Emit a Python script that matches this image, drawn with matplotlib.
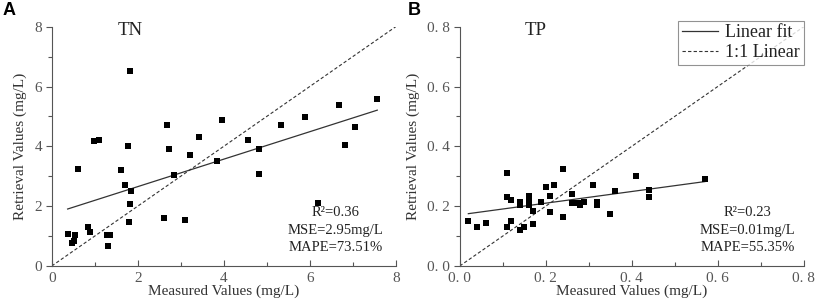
import numpy as np
import matplotlib
matplotlib.use('Agg')
import matplotlib.pyplot as plt
from matplotlib.ticker import MultipleLocator, FuncFormatter

# TN measured vs retrieved (mg/L)
tn_measured = [0.37, 0.47, 0.52, 0.54, 0.60, 0.84, 0.88, 0.98, 1.09, 1.29, 1.36, 1.30,
               1.61, 1.71, 1.78, 1.79, 1.82, 1.84, 1.81, 2.61, 2.69, 2.73, 2.84, 3.09,
               3.22, 3.43, 3.85, 3.95, 4.57, 4.81, 4.82, 5.33, 5.88, 6.20, 6.67, 6.81,
               7.05, 7.57]
tn_retrieved = [1.06, 0.78, 0.85, 1.03, 3.24, 1.29, 1.13, 4.19, 4.21, 1.03, 1.03, 0.66,
                3.22, 2.70, 4.00, 1.47, 6.53, 2.52, 2.06, 1.60, 4.71, 3.90, 3.03, 1.53,
                3.72, 4.31, 3.52, 4.87, 4.20, 3.08, 3.90, 4.70, 4.97, 2.12, 5.37, 4.04,
                4.64, 5.57]
tn_fit = (0.459, 1.735)   # slope, intercept
tn_stats = ['R²=0.36', 'MSE=2.95mg/L', 'MAPE=73.51%']

# TP measured vs retrieved (mg/L)
tp_measured = [0.02, 0.04, 0.06, 0.11, 0.11, 0.11, 0.12, 0.12, 0.14, 0.14, 0.14, 0.15,
               0.16, 0.16, 0.16, 0.17, 0.17, 0.19, 0.20, 0.21, 0.21, 0.22, 0.24, 0.24,
               0.26, 0.26, 0.27, 0.28, 0.28, 0.29, 0.31, 0.32, 0.32, 0.35, 0.36, 0.41,
               0.44, 0.44, 0.57]
tp_retrieved = [0.15, 0.13, 0.145, 0.31, 0.23, 0.13, 0.22, 0.15, 0.213, 0.203, 0.12, 0.13,
                0.235, 0.22, 0.205, 0.185, 0.14, 0.215, 0.265, 0.235, 0.18, 0.27, 0.325, 0.165,
                0.24, 0.21, 0.21, 0.21, 0.205, 0.213, 0.27, 0.215, 0.205, 0.175, 0.25, 0.30,
                0.255, 0.23, 0.29]
tp_fit = (0.195, 0.171)
tp_stats = ['R²=0.23', 'MSE=0.01mg/L', 'MAPE=55.35%']

serif = 'Liberation Serif'
tick_col = '#555555'
lab_col = '#333333'

fig = plt.figure(figsize=(8.16, 3.05), dpi=100)
axA = fig.add_axes([0.0634, 0.1279, 0.4216, 0.7846])
axB = fig.add_axes([0.5634, 0.1279, 0.4216, 0.7846])


def style(ax, lim, major, minor, fmt):
    ax.set_xlim(0, lim)
    ax.set_ylim(0, lim)
    ax.spines['top'].set_visible(False)
    ax.spines['right'].set_visible(False)
    for s in ['left', 'bottom']:
        ax.spines[s].set_color(tick_col)
        ax.spines[s].set_linewidth(0.8)
    for axis in [ax.xaxis, ax.yaxis]:
        axis.set_major_locator(MultipleLocator(major))
        axis.set_minor_locator(MultipleLocator(minor))
        axis.set_major_formatter(FuncFormatter(fmt))
    ax.tick_params(axis='x', which='both', direction='in', colors=tick_col,
                   labelcolor=tick_col, labelsize=11, pad=4)
    ax.tick_params(axis='y', which='both', direction='out', colors=tick_col,
                   labelcolor=tick_col, labelsize=11, pad=3)
    ax.tick_params(which='major', length=4, width=0.8)
    ax.tick_params(which='minor', length=3, width=0.8)
    for lab in ax.get_xticklabels() + ax.get_yticklabels():
        lab.set_family(serif)
    ax.set_xlabel('Measured Values (mg/L)', family=serif, fontsize=11,
                  color=lab_col, labelpad=0)
    ax.set_ylabel('Retrieval Values (mg/L)', family=serif, fontsize=11,
                  color=lab_col, labelpad=5)


def panel(ax, xs, ys, fit, lim, name, name_x, stats, stats_x):
    xs = np.array(xs)
    fx = np.array([xs.min(), xs.max()])
    l1, = ax.plot(fx, fit[0] * fx + fit[1], color='#333333', lw=0.9, zorder=2)
    l2, = ax.plot([0, lim], [0, lim], color='#333333', lw=0.8,
                  linestyle=(0, (3, 2)), zorder=2)
    ax.scatter(xs, ys, marker='s', s=16, color='black', linewidths=0, zorder=3)
    ax.text(name_x, lim * 0.985, name, family=serif, fontsize=13.5,
            ha='center', va='center', color='#222222')
    for i, t in enumerate(stats):
        ax.text(stats_x, lim * (0.222 - i * 0.073), t, family=serif, fontsize=10.5,
                ha='center', va='center', color='#222222')
    return l1, l2


fmtA = lambda v, p: '%d' % round(v)
fmtB = lambda v, p: ('%.1f' % v).replace('.', '. ')

style(axA, 8, 2, 1, fmtA)
style(axB, 0.8, 0.2, 0.1, fmtB)

panel(axA, tn_measured, tn_retrieved, tn_fit, 8, 'TN', 1.82, tn_stats, 6.6)
l1, l2 = panel(axB, tp_measured, tp_retrieved, tp_fit, 0.8, 'TP', 0.177, tp_stats, 0.67)

leg = axB.legend([l1, l2], ['Linear fit', '1:1 Linear'], loc='upper right',
                 bbox_to_anchor=(1.0, 1.025), prop={'family': serif, 'size': 13},
                 frameon=True, fancybox=False, edgecolor='#777777',
                 handlelength=2.0, handletextpad=0.4, borderpad=0.2,
                 labelspacing=0.15, borderaxespad=0.0)
leg.get_frame().set_linewidth(0.8)
leg.set_zorder(5)
for t in leg.get_texts():
    t.set_color('#222222')

fig.text(0.003, 0.995, 'A', family='Liberation Sans', weight='bold', fontsize=13,
         ha='left', va='top')
fig.text(0.5, 0.995, 'B', family='Liberation Sans', weight='bold', fontsize=13,
         ha='left', va='top')

fig.savefig('out.png', dpi=100)
